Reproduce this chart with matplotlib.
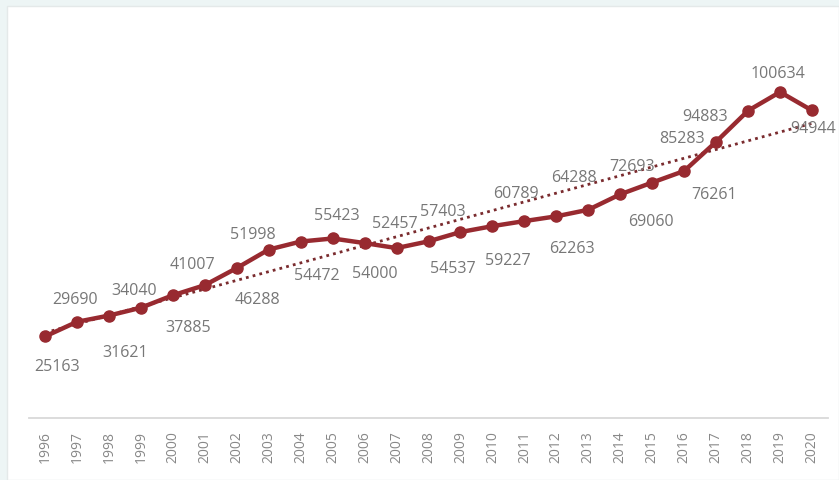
import numpy as np
import matplotlib
matplotlib.use("Agg")
import matplotlib.pyplot as plt
from matplotlib.patches import Rectangle

years = ["1996", "1997", "1998", "1999", "2000", "2001", "2002", "2003", "2004",
         "2005", "2006", "2007", "2008", "2009", "2010", "2011", "2012", "2013",
         "2014", "2015", "2016", "2017", "2018", "2019", "2020"]
values = [25163, 29690, 31621, 34040, 37885, 41007, 46288, 51998, 54472,
          55423, 54000, 52457, 54537, 57403, 59227, 60789, 62263, 64288,
          69060, 72693, 76261, 85283, 94883, 100634, 94944]

# label offsets from each point in pixels (dx right, dy down) - styling only
label_dx = [12, -2, 16, -7, 15, -12, 21, -16, 16, 4, 10, -2, 24, -18, 15, -8,
            16, -14, 31, -20, 30, -34, -43, -2, 1]
label_dy = [29, -24, 35, -19, 31, -22, 30, -17, 32, -24, 29, -26, 26, -22, 33,
            -29, 31, -34, 26, -18, 22, -5, 4, -20, 17]

plt.rcParams['font.family'] = ['Open Sans', 'DejaVu Sans']

W, H = 839, 481
fig = plt.figure(figsize=(W / 100, H / 100), dpi=100, facecolor='#edf5f5')
panel = Rectangle((7 / W, 0), 1 - 7 / W, (H - 7) / H,
                  transform=fig.transFigure, facecolor='white',
                  edgecolor='#e4e9e9', lw=1.0, zorder=-10)
fig.add_artist(panel)

ax = fig.add_axes([29 / W, (H - 419) / H, 799 / W, (419 - 30.3) / H])
ax.set_facecolor('none')
ax.set_zorder(1)

x = np.arange(len(years))
y = np.array(values, dtype=float)

coef = np.polyfit(x, y, 1)
trend = np.polyval(coef, x)
ax.plot(x, trend, color='#7a2b2e', lw=2.0, linestyle=(0, (1, 1.5)),
        zorder=2)

ax.plot(x, y, color='#982a30', lw=3.2, marker='o', markersize=8,
        markerfacecolor='#982a30', markeredgecolor='#982a30', zorder=3,
        solid_capstyle='round')

for i, v in enumerate(values):
    ax.annotate(str(v), (x[i], v), xytext=(label_dx[i], -(label_dy[i] + 5)),
                textcoords='offset pixels', ha='center', va='baseline',
                fontsize=11.5, color='#777777', zorder=4, annotation_clip=False)

ax.set_xlim(-0.5, len(years) - 0.5)
ax.set_ylim(0, 120000)
ax.set_xticks(x)
ax.set_xticklabels(years, rotation=90, fontsize=10, color='#888888')
ax.tick_params(axis='x', length=0, pad=9)
ax.set_yticks([])
for s in ['left', 'right', 'top']:
    ax.spines[s].set_visible(False)
ax.spines['bottom'].set_color('#d9d9d9')
ax.spines['bottom'].set_linewidth(1.3)

fig.savefig('out.png', dpi=100, facecolor=fig.get_facecolor())
